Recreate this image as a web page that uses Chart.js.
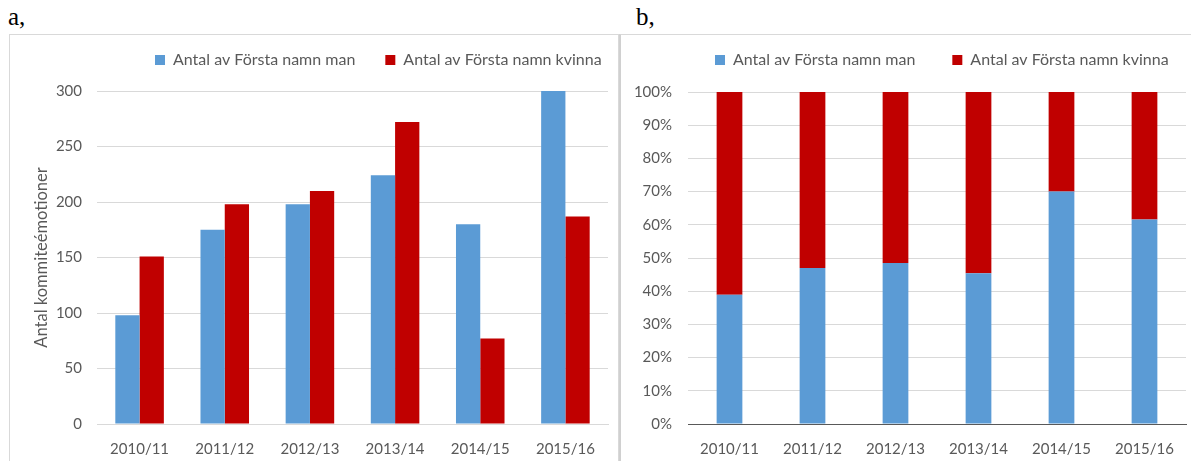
<!DOCTYPE html>
<html>
<head>
<meta charset="utf-8">
<script src="https://cdn.jsdelivr.net/npm/chart.js@4"></script>
<style>
  body { margin: 0; background: #fff; width: 1191px; height: 461px; overflow: hidden; position: relative; }
  .tag { position: absolute; font-family: "Liberation Serif", serif; font-size: 25px; color: #000; }
  .box { position: absolute; border: 1px solid #d9d9d9; border-bottom: none; }
  .wrap { position: absolute; }
</style>
</head>
<body>
<div class="tag" style="left:8px;top:3px">a,</div>
<div class="tag" style="left:636px;top:3px">b,</div>
<div class="box" style="left:9px;top:34px;width:608px;height:440px"></div>
<div class="box" style="left:619px;top:34px;width:580px;height:440px;border-left:2px solid #d0d0d0"></div>
<div class="wrap" style="left:10px;top:35px;width:607px;height:426px"><canvas id="chartA"></canvas></div>
<div class="wrap" style="left:622px;top:35px;width:569px;height:426px"><canvas id="chartB"></canvas></div>
<script>
const years = ["2010/11", "2011/12", "2012/13", "2013/14", "2014/15", "2015/16"];
const manCount = [98, 175, 198, 224, 180, 300];
const womanCount = [151, 198, 210, 272, 77, 187];
const manShare = [38.9, 47.0, 48.5, 45.4, 70.0, 61.6];
const womanShare = [61.1, 53.0, 51.5, 54.6, 30.0, 38.4];
const seriesNames = ["Antal av Första namn man", "Antal av Första namn kvinna"];
const yTitle = "Antal kommiteémotioner";

const blue = "#5b9bd5";
const red = "#c00000";
const grey = "#595959";
const font = { family: "Lato", size: 15 };
const legendFont = { family: "Lato", size: 16 };

// moves the legend to a fixed spot inside the canvas
const legendSpot = {
  id: "legendSpot",
  afterLayout(chart, args, opts) {
    const lg = chart.legend;
    const w = lg.right - lg.left;
    const h = lg.bottom - lg.top;
    const p = chart.options.plugins.legend.labels.padding;
    lg.left = opts.x - p;
    lg.right = lg.left + w;
    lg.top = opts.y - p - 10;
    lg.bottom = lg.top + h;
  }
};

function legendOpts(gap) {
  return {
    position: "top",
    align: "start",
    maxHeight: 57,
    labels: { color: grey, font: legendFont, boxWidth: 10, boxHeight: 10, padding: gap }
  };
}

new Chart(document.getElementById("chartA"), {
  type: "bar",
  data: {
    labels: years,
    datasets: [
      { label: seriesNames[0], data: manCount, backgroundColor: blue },
      { label: seriesNames[1], data: womanCount, backgroundColor: red }
    ]
  },
  options: {
    responsive: true,
    maintainAspectRatio: false,
    animation: false,
    layout: { padding: { left: 0, right: 9, top: 0, bottom: 0 } },
    datasets: { bar: { categoryPercentage: 0.57, barPercentage: 1.0 } },
    plugins: {
      legend: legendOpts(30),
      legendSpot: { x: 145, y: 27 },
      tooltip: { enabled: false }
    },
    scales: {
      x: {
        grid: { display: false },
        border: { display: true, color: "#d9d9d9" },
        ticks: { color: grey, font, padding: 8 },
        afterFit: s => { s.height = 37; }
      },
      y: {
        min: 0,
        max: 300,
        ticks: { stepSize: 50, color: grey, font, padding: 15 },
        grid: { color: "#d9d9d9", drawTicks: false },
        border: { display: false },
        title: { display: true, text: yTitle, color: grey, font: { family: "Lato", size: 16.5 }, padding: { top: 22, bottom: 0 } },
        afterFit: s => { s.width = 87; }
      }
    }
  },
  plugins: [legendSpot]
});

new Chart(document.getElementById("chartB"), {
  type: "bar",
  data: {
    labels: years,
    datasets: [
      { label: seriesNames[0], data: manShare, backgroundColor: blue },
      { label: seriesNames[1], data: womanShare, backgroundColor: red }
    ]
  },
  options: {
    responsive: true,
    maintainAspectRatio: false,
    animation: false,
    layout: { padding: { left: 0, right: 5, top: 0, bottom: 0 } },
    datasets: { bar: { categoryPercentage: 0.31, barPercentage: 1.0 } },
    plugins: {
      legend: legendOpts(37),
      legendSpot: { x: 93, y: 27 },
      tooltip: { enabled: false }
    },
    scales: {
      x: {
        stacked: true,
        grid: { display: false },
        border: { display: true, color: "#595959" },
        ticks: { color: grey, font, padding: 8 },
        afterFit: s => { s.height = 37; }
      },
      y: {
        stacked: true,
        min: 0,
        max: 100,
        ticks: { stepSize: 10, color: grey, font, padding: 16, callback: v => v + "%" },
        grid: { color: "#d9d9d9", drawTicks: false },
        border: { display: false },
        afterFit: s => { s.width = 66; }
      }
    }
  },
  plugins: [legendSpot]
});
</script>
</body>
</html>
